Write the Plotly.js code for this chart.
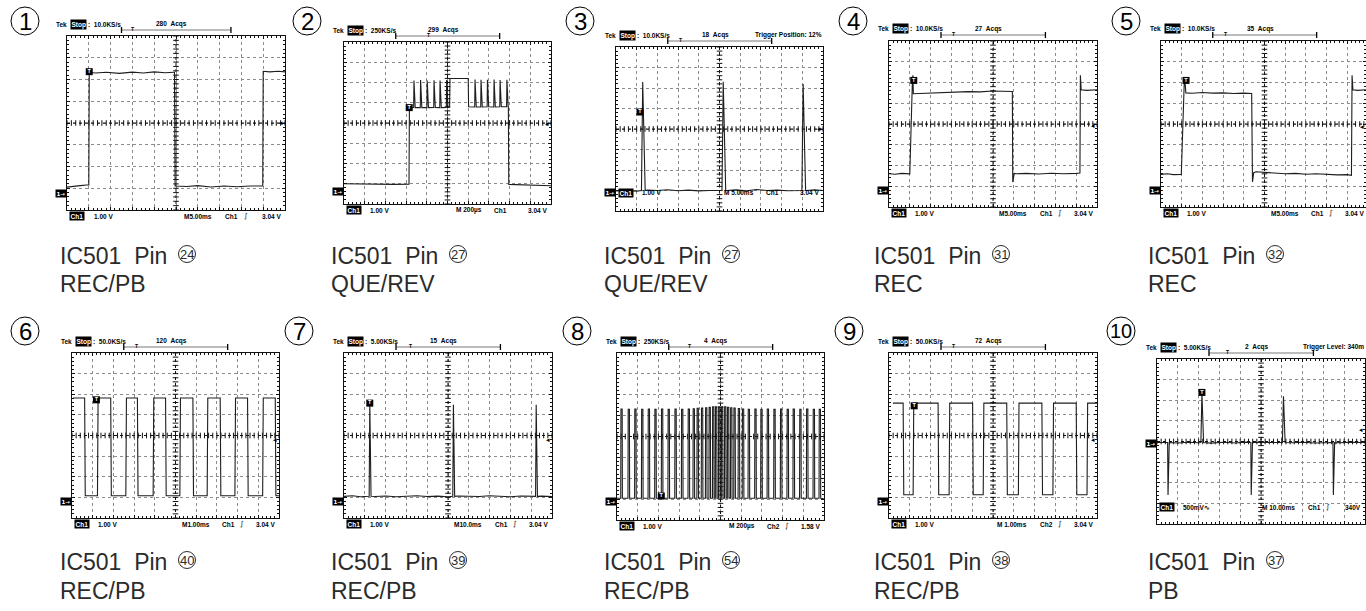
<!DOCTYPE html>
<html><head><meta charset="utf-8">
<script src="https://cdn.plot.ly/plotly-3.0.1.min.js"></script>
<style>html,body{margin:0;padding:0;background:#fff;}#chart{width:1366px;height:611px;}</style>
</head><body><div id="chart"></div>
<script>
// ---------------- text content ----------------
const panelNumbers = ['1','2','3','4','5','6','7','8','9','10'];
const pinNumbers   = ['24','27','27','31','32','40','39','54','38','37'];
const modeLabels   = ['REC/PB','QUE/REV','QUE/REV','REC','REC','REC/PB','REC/PB','REC/PB','REC/PB','PB'];
const sampleRates  = ['10.0KS/s','250KS/s','10.0KS/s','10.0KS/s','10.0KS/s','50.0KS/s','5.00KS/s','250KS/s','50.0KS/s','5.00KS/s'];
const acqCounts    = ['280  Acqs','299  Acqs','18  Acqs','27  Acqs','35  Acqs','120  Acqs','15  Acqs','4  Acqs','72  Acqs','2  Acqs'];
const extraHeaders = ['','','Trigger Position: 12%','','','','','','','Trigger Level: 340m'];
const voltsPerDiv  = ['1.00 V','1.00 V','1.00 V','1.00 V','1.00 V','1.00 V','1.00 V','1.00 V','1.00 V','500mV\u223F'];
const timeBases    = ['M5.00ms','M 200\u00B5s','M 5.00ms','M5.00ms','M5.00ms','M1.00ms','M10.0ms','M 200\u00B5s','M 1.00ms','M 10.00ms'];
const trigChannels = ['Ch1','Ch1','Ch1','Ch1','Ch1','Ch1','Ch1','Ch2','Ch2','Ch1'];
const trigLevels   = ['3.04 V','3.04 V','3.04 V','3.04 V','3.04 V','3.04 V','3.04 V','1.58 V','3.04 V','340V'];
const showSlope    = [true,false,false,true,true,true,true,true,true,true];
// trigger / reference markers (divisions)
const trigPosFrac  = [0.30,0.41,0.31,0.31,0.31,0.31,0.32,0.35,0.31,0.34];
const trigMarkX    = [1.02,3.15,1.16,1.19,1.21,1.18,1.24,2.14,1.21,2.16];
const trigMarkY    = [6.36,4.76,4.83,6.10,6.10,5.73,5.57,1.15,5.44,6.38];
const groundLevel  = [0.78,0.64,0.88,0.80,0.80,0.81,0.81,0.88,0.81,3.89];
const trigArrow    = [4.0,3.94,4.0,3.9,3.86,3.8,3.8,null,3.8,4.57];

// ---------------- waveform values (x in divisions 0..10, y in divisions 0..8) ----------------
// 1: square
const p1x = [0,0.3,0.6,0.9,1.0,1.02,1.3,1.8,2.4,3.0,3.5,4.0,4.5,4.9,4.93,4.96,5.5,6.0,6.6,7.2,7.8,8.4,8.98,9.0,9.3,9.7,10];
const p1y = [1.05,1.1,1.12,1.15,1.15,6.33,6.3,6.33,6.28,6.34,6.3,6.35,6.31,6.33,6.33,1.1,1.08,1.12,1.06,1.1,1.07,1.1,1.1,6.38,6.35,6.38,6.35];
// 2: gate with burst spikes
const p2BaseX = [0,0.8,1.6,2.4,3.14,3.16,3.3,5.1,5.12,5.6,6.0,6.02,6.2,7.94,7.96,8.6,9.3,10];
const p2BaseY = [1.0,0.98,0.99,0.97,0.98,4.72,4.75,4.78,6.2,6.22,6.2,4.8,4.78,4.8,0.97,0.95,0.93,0.9];
const p2SpikeX = [3.38,3.70,4.02,4.35,4.64,4.96,6.33,6.62,6.93,7.25,7.54,7.87];
const p2SpikeY = [6.10,6.12,6.10,6.11,6.10,6.12,6.15,6.13,6.14,6.15,6.12,6.14];
const p2SpikeBase = [4.76,4.76,4.76,4.77,4.76,4.77,4.79,4.79,4.8,4.79,4.8,4.8];
// 3: three spikes
const p3BaseX = [0,0.5,1.0,1.2,1.5,2.0,2.5,3.0,3.5,4.0,4.5,5.0,5.35,5.8,6.3,6.8,7.3,7.8,8.3,8.9,9.2,9.6,10];
const p3BaseY = [0.98,1.0,0.97,1.0,1.02,1.0,1.04,0.99,1.02,0.98,1.0,1.01,1.0,1.03,0.98,1.05,1.0,1.02,0.99,1.01,1.0,1.03,1.0];
const p3SpikeX = [1.29,5.18,9.04];
const p3SpikeY = [6.29,6.30,6.20];
// 4: REC pulse with overshoots
const p4x = [0,0.3,0.6,0.9,1.0,1.12,1.15,1.17,1.4,2.0,2.6,3.2,3.8,4.4,4.95,5.93,5.95,6.02,6.1,6.6,7.2,7.8,8.4,9.0,9.18,9.2,9.24,9.5,10];
const p4y = [1.6,1.58,1.62,1.6,1.6,5.9,6.35,5.46,5.47,5.5,5.52,5.54,5.56,5.55,5.59,5.57,1.2,1.62,1.6,1.62,1.59,1.63,1.6,1.62,1.64,6.35,5.65,5.62,5.65];
// 5: REC pulse
const p5x = [0,0.3,0.6,0.9,0.98,1.12,1.15,1.2,1.5,2.0,2.5,3.0,3.5,4.0,4.38,4.42,4.48,4.6,5.0,5.5,6.0,6.5,7.0,7.5,8.0,8.5,9.0,9.2,9.23,9.27,9.5,9.9];
const p5y = [1.57,1.6,1.56,1.58,1.57,5.9,6.18,5.5,5.48,5.52,5.49,5.5,5.47,5.49,5.47,1.21,1.65,1.7,1.67,1.65,1.6,1.62,1.58,1.6,1.57,1.55,1.56,1.53,6.35,5.65,5.62,5.65];
// 6: square wave edges
const p6Edges = [0.61,1.23,1.87,2.60,3.16,3.92,4.52,5.21,5.84,6.53,7.16,7.87,8.48,9.21,9.82];
const p6Levels = [5.82,1.08];
// 7: three narrow spikes
const p7BaseX = [0,0.4,0.8,1.1,1.5,2.0,2.5,3.0,3.5,4.0,4.5,5.0,5.5,6.0,6.5,7.0,7.5,8.0,8.5,9.0,9.5,10];
const p7BaseY = [1.05,1.08,1.03,1.06,1.04,1.07,1.03,1.05,1.08,1.04,1.06,1.03,1.07,1.05,1.04,1.08,1.05,1.03,1.07,1.05,1.06,1.04];
const p7SpikeX = [1.24,5.26,9.24];
const p7SpikeY = [5.57,5.49,5.49];
// 8: pulse burst
const p8PulseX = [0.18,0.53,0.85,1.18,1.50,1.82,2.14,2.46,2.79,3.11,3.43,3.67,3.86,4.07,4.27,4.44,4.61,4.75,4.90,5.04,5.19,5.33,5.48,5.64,5.85,6.05,6.33,6.65,6.94,7.25,7.57,7.89,8.21,8.50,8.82,9.15,9.47,9.76];
const p8PulseY = [5.32,5.30,5.31,5.30,5.32,5.30,5.31,5.30,5.32,5.30,5.31,5.33,5.35,5.36,5.38,5.40,5.42,5.42,5.42,5.42,5.42,5.40,5.38,5.36,5.34,5.32,5.30,5.31,5.30,5.32,5.30,5.31,5.30,5.32,5.30,5.31,5.30,5.30];
const p8BaseX = [0,10];
const p8BaseY = [1.04,1.02];
// 9: square wave edges
const p9Edges = [0.68,1.16,2.36,2.89,4.02,4.53,5.66,6.22,7.35,7.88,9.00,9.52];
const p9Levels = [5.57,1.13];
// 10: bipolar spikes
const p10BaseX = [0,0.3,1.0,1.5,2.0,2.6,3.2,3.8,4.2,4.9,5.5,6.5,7.0,7.6,8.1,8.8,9.3,10];
const p10BaseY = [3.95,3.97,3.93,3.96,3.94,3.92,3.96,3.93,3.97,3.95,3.92,3.94,3.96,3.93,3.95,3.94,3.96,3.95];
const p10NegX = [0.53,4.53,8.48];
const p10NegY = [1.41,1.41,1.41];
const p10PosX = [2.16,6.08];
const p10PosY = [6.35,6.19];

// ---------------- builders ----------------
function merge(bx, by, extra){
  const pts = bx.map((x,i)=>[x,by[i]]).concat(extra);
  pts.sort((a,b)=>a[0]-b[0]);
  return {x:pts.map(p=>p[0]), y:pts.map(p=>p[1])};
}
function spikes(times, peaks, base, up, down){
  const out=[];
  times.forEach((t,i)=>{const b=Array.isArray(base)?base[i]:base; out.push([t-up,b],[t,peaks[i]],[t+down,b]);});
  return out;
}
function pulses(times, peaks, base, w){
  const out=[];
  times.forEach((t,i)=>{out.push([t,base],[t+0.01,peaks[i]],[t+w-0.01,peaks[i]],[t+w,base]);});
  return out;
}
function squareWave(edges, x0, x1, hi, lo, ew){
  const x=[x0], y=[hi]; let high=true;
  edges.forEach(e=>{x.push(e); y.push(high?hi:lo); high=!high; x.push(e+ew); y.push(high?hi:lo);});
  x.push(x1); y.push(high?hi:lo);
  return {x,y};
}
const waves = [
  {x:p1x, y:p1y},
  merge(p2BaseX,p2BaseY,spikes(p2SpikeX,p2SpikeY,p2SpikeBase,0.015,0.06)),
  merge(p3BaseX,p3BaseY,spikes(p3SpikeX,p3SpikeY,1.0,0.06,0.12)),
  {x:p4x, y:p4y},
  {x:p5x, y:p5y},
  squareWave(p6Edges,0.05,10,p6Levels[0],p6Levels[1],0.03),
  merge(p7BaseX,p7BaseY,spikes(p7SpikeX,p7SpikeY,1.05,0.03,0.06)),
  merge(p8BaseX,p8BaseY,pulses(p8PulseX,p8PulseY,1.04,0.08)),
  squareWave(p9Edges,0.19,10,p9Levels[0],p9Levels[1],0.03),
  merge(p10BaseX,p10BaseY,spikes(p10NegX,p10NegY,3.95,0.02,0.06).concat(spikes(p10PosX,p10PosY,3.95,0.05,0.08)))
];

// ---------------- geometry (pixels) ----------------
const W=1366, H=611;
const px = x => x/W, py = y => 1 - y/H;
const boxes = [[67,36,285,210],[344,42,551,204],[616,47,823,211],[889,41,1097,207],[1161,41,1368,207],
               [72,353,279,518],[344,353,552,518],[617,353,824,520],[889,353,1097,518],[1157,359,1365,524]];
const labelRowOffset = [6,6,-18,6,6,6,6,6,6,-17];
const captionX = [59,330,603,873,1147,59,330,603,873,1147];
const captionY = [[256,284],[562,591]];
const numCenters = [[25,21],[307,21],[580,21],[853,21],[1126,21],[25,331],[299,331],[577,331],[849,331],[1121,331]];

const F = 'Liberation Sans, Arial, sans-serif';
const FN = 'Liberation Sans Narrow, Liberation Sans, Arial, sans-serif';
const ann=[], shapes=[], traces=[];
const layout = {width:W, height:H, margin:{l:0,r:0,t:0,b:0}, paper_bgcolor:'#fff', plot_bgcolor:'#fff',
  showlegend:false, annotations:ann, shapes:shapes, hovermode:false};

function txt(x,y,text,o){o=o||{};
  ann.push({xref:'paper',yref:'paper',x:px(x),y:py(y),text:text,showarrow:false,
    xanchor:o.xa||'left',yanchor:'middle',borderpad:o.pad||0,bgcolor:o.bg||'rgba(0,0,0,0)',
    font:{family:o.fam||F,size:o.size||6.5,color:o.color||'#000'}});}
function circle(cx,cy,r,color){shapes.push({type:'circle',xref:'paper',yref:'paper',x0:px(cx-r),x1:px(cx+r),y0:py(cy+r),y1:py(cy-r),line:{color:color,width:1}});}
function pline(x0,y0,x1,y1,color,w){shapes.push({type:'line',xref:'paper',yref:'paper',x0:px(x0),x1:px(x1),y0:py(y0),y1:py(y1),line:{color:color,width:w}});}

function axis(domain, range, anchor){
  return {domain:domain, range:range, anchor:anchor, showgrid:true, gridcolor:'#8c8c8c', griddash:'dot', gridwidth:1,
    showline:true, linecolor:'#111', linewidth:1, mirror:'allticks', ticks:'inside', ticklen:3, tickwidth:1, tickcolor:'#111',
    tick0:0, dtick:1, minor:{tick0:0, dtick:0.2, ticks:'inside', ticklen:2, tickwidth:1, tickcolor:'#111', showgrid:false},
    showticklabels:false, zeroline:false, fixedrange:true};
}

waves.forEach((wv,i)=>{
  const [L,T,R,B] = boxes[i]; const Wd = R-L;
  const xmax = R>W ? 10*(W-L)/(R-L) : 10;
  const xn = i===0?'x':'x'+(i+1), yn = i===0?'y':'y'+(i+1);
  layout[i===0?'xaxis':'xaxis'+(i+1)] = axis([px(L),Math.min(1,px(R))],[0,xmax],yn);
  layout[i===0?'yaxis':'yaxis'+(i+1)] = axis([py(B),py(T)],[0,8],xn);
  // centre cross
  shapes.push({type:'line',xref:xn,yref:yn,x0:5,x1:5,y0:0,y1:8,line:{color:'#111',width:1,dash:'dot'}});
  shapes.push({type:'line',xref:xn,yref:yn,x0:0,x1:xmax,y0:4,y1:4,line:{color:'#111',width:1,dash:'dot'}});
  const hx=[],hy=[],vx=[],vy=[];
  for(let k=0;k<=50;k++){const v=k*0.2; if(v<=xmax+1e-9){hx.push(v);hy.push(4);}}
  for(let k=0;k<=40;k++){vx.push(5);vy.push(k*0.2);}
  traces.push({type:'scatter',mode:'markers',x:hx,y:hy,xaxis:xn,yaxis:yn,hoverinfo:'skip',
    marker:{symbol:'line-ns-open',size:4,color:'#111',line:{color:'#111',width:1}}});
  traces.push({type:'scatter',mode:'markers',x:vx,y:vy,xaxis:xn,yaxis:yn,hoverinfo:'skip',
    marker:{symbol:'line-ew-open',size:4,color:'#111',line:{color:'#111',width:1}}});
  // waveform
  traces.push({type:'scatter',mode:'lines',x:wv.x,y:wv.y,xaxis:xn,yaxis:yn,hoverinfo:'skip',
    line:{color:'#1e1e1e',width:1.1}});
  // trigger marker
  traces.push({type:'scatter',mode:'markers+text',x:[trigMarkX[i]],y:[trigMarkY[i]],xaxis:xn,yaxis:yn,hoverinfo:'skip',
    cliponaxis:false,marker:{symbol:'square',size:7,color:'#000'},text:['<b>T</b>'],textposition:'middle center',
    textfont:{family:F,size:5.5,color:'#fff'}});
  // ground marker
  ann.push({xref:xn,yref:yn,x:0,y:groundLevel[i],text:'<b>1\u2192</b>',showarrow:false,xanchor:'right',yanchor:'middle',
    bgcolor:'#000',borderpad:0.5,font:{family:'DejaVu Sans, sans-serif',size:5.5,color:'#fff'}});
  if(trigArrow[i]!==null){
    ann.push({xref:xn,yref:yn,x:xmax,y:trigArrow[i],text:'\u25C2',showarrow:false,xanchor:'right',yanchor:'middle',
      font:{family:'DejaVu Sans, sans-serif',size:7,color:'#000'}});
  }
  // header
  const hy0 = T-12, by0 = T-6;
  txt(L-12,hy0,'<b>Tek</b>');
  txt(L+11,hy0,'<b>Stop</b>',{xa:'center',bg:'#000',color:'#fff',pad:0.5});
  txt(L+20,hy0,'<b>:\u00A0\u00A0'+sampleRates[i]+'</b>');
  const bx0=L+0.25*Wd, bx1=L+0.752*Wd;
  pline(bx0,by0,bx1,by0,'#555',0.8);
  pline(bx0,by0-3,bx0,by0+3,'#000',1.3);
  pline(bx1,by0-3,bx1,by0+3,'#000',1.3);
  txt(L+trigPosFrac[i]*Wd,by0-1,'<b>T</b>',{xa:'center',size:5});
  txt(L+0.48*Wd,hy0,'<b>'+acqCounts[i].replace('  ','\u00A0\u00A0')+'</b>',{xa:'center'});
  if(extraHeaders[i]){
    if(i===2) txt(R,hy0,'<b>'+extraHeaders[i]+'</b>',{xa:'right'});
    else txt(W-1,hy0,'<b>'+extraHeaders[i]+'</b>',{xa:'right'});
  }
  // bottom labels
  const ly = B+labelRowOffset[i];
  txt(L+0.048*Wd,ly,'<b>Ch1</b>',{xa:'center',bg:'#000',color:'#fff',pad:0.5});
  txt(L+0.12*Wd,ly,'<b>'+voltsPerDiv[i]+'</b>');
  txt(L+0.67*Wd,ly,'<b>'+timeBases[i]+'</b>',{xa:'right'});
  txt(L+0.755*Wd,ly,'<b>'+trigChannels[i]+'</b>',{xa:'center'});
  if(showSlope[i]) txt(L+0.82*Wd,ly,'\u222B',{xa:'center',size:7,fam:'DejaVu Sans, sans-serif'});
  txt(Math.min(L+0.985*Wd,W-1),ly,'<b>'+trigLevels[i]+'</b>',{xa:'right'});
  // panel number
  const [cx,cy] = numCenters[i];
  circle(cx,cy,14,'#000');
  txt(cx,cy+0.5,panelNumbers[i],{xa:'center',size:panelNumbers[i].length>1?20:24,fam:panelNumbers[i].length>1?FN:F});
  // caption
  const row = i<5?0:1, cxp = captionX[i];
  txt(cxp,captionY[row][0],'IC501\u00A0\u00A0Pin',{size:23,color:'#2b2b2b'});
  txt(cxp,captionY[row][1],modeLabels[i],{size:23,color:'#2b2b2b'});
  circle(cxp+128,captionY[row][0]-2,8.5,'#2b2b2b');
  txt(cxp+128,captionY[row][0]-1.5,pinNumbers[i],{xa:'center',size:13,fam:FN,color:'#2b2b2b'});
});

Plotly.newPlot('chart',traces,layout,{staticPlot:true,displayModeBar:false});
</script>
</body></html>
